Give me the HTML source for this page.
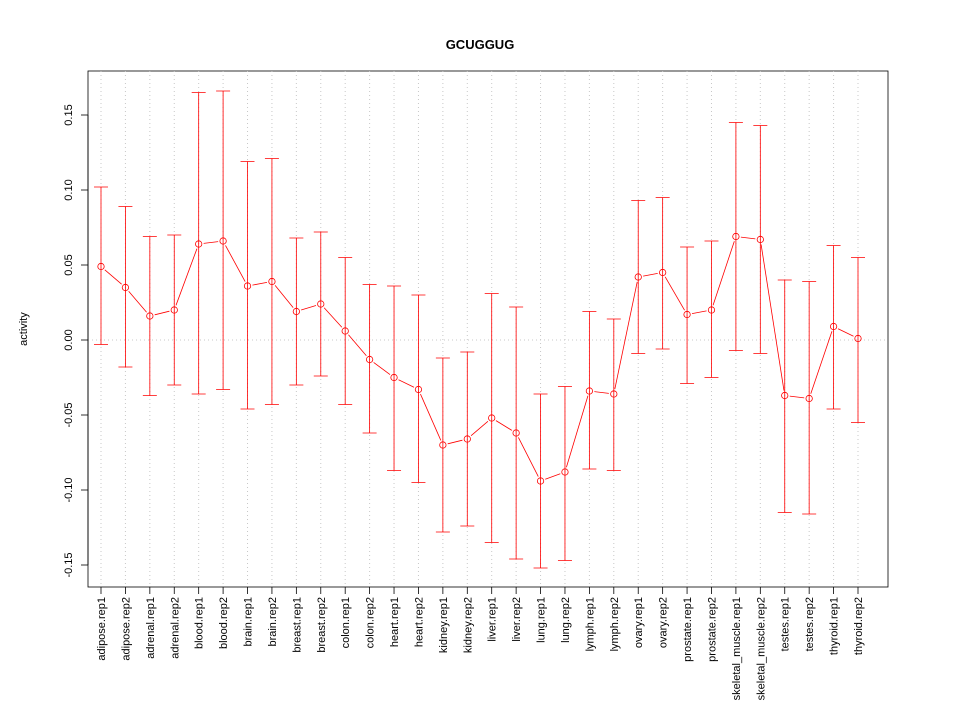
<!DOCTYPE html>
<html><head><meta charset="utf-8"><style>
body{margin:0;background:#fff}
svg text{font-family:"Liberation Sans",sans-serif}
</style></head><body>
<svg id="chart" width="960" height="720" xmlns="http://www.w3.org/2000/svg">
<rect width="960" height="720" fill="#fff"/>
<text x="480" y="49" text-anchor="middle" font-size="13" font-weight="bold">GCUGGUG</text>
<rect x="88" y="71" width="800" height="516" fill="none" stroke="#000" stroke-width="0.8"/>
<text transform="translate(27,329) rotate(-90)" text-anchor="middle" font-size="11">activity</text>
<g id="grid"></g><g id="yaxis"></g><g id="xaxis"></g><g id="series"></g>
</svg>
<script>
const categories=["adipose.rep1","adipose.rep2","adrenal.rep1","adrenal.rep2","blood.rep1","blood.rep2","brain.rep1","brain.rep2","breast.rep1","breast.rep2","colon.rep1","colon.rep2","heart.rep1","heart.rep2","kidney.rep1","kidney.rep2","liver.rep1","liver.rep2","lung.rep1","lung.rep2","lymph.rep1","lymph.rep2","ovary.rep1","ovary.rep2","prostate.rep1","prostate.rep2","skeletal_muscle.rep1","skeletal_muscle.rep2","testes.rep1","testes.rep2","thyroid.rep1","thyroid.rep2"];
const values=[0.049,0.035,0.016,0.020,0.064,0.066,0.036,0.039,0.019,0.024,0.006,-0.013,-0.025,-0.033,-0.070,-0.066,-0.052,-0.062,-0.094,-0.088,-0.034,-0.036,0.042,0.045,0.017,0.020,0.069,0.067,-0.037,-0.039,0.009,0.001];
const upper=[0.102,0.089,0.069,0.070,0.165,0.166,0.119,0.121,0.068,0.072,0.055,0.037,0.036,0.030,-0.012,-0.008,0.031,0.022,-0.036,-0.031,0.019,0.014,0.093,0.095,0.062,0.066,0.145,0.143,0.040,0.039,0.063,0.055];
const lower=[-0.003,-0.018,-0.037,-0.030,-0.036,-0.033,-0.046,-0.043,-0.030,-0.024,-0.043,-0.062,-0.087,-0.095,-0.128,-0.124,-0.135,-0.146,-0.152,-0.147,-0.086,-0.087,-0.009,-0.006,-0.029,-0.025,-0.007,-0.009,-0.115,-0.116,-0.046,-0.055];
const yTicks=[-0.15,-0.10,-0.05,0.00,0.05,0.10,0.15];
const yTickLabels=["-0.15","-0.10","-0.05","0.00","0.05","0.10","0.15"];
const NS="http://www.w3.org/2000/svg";
const xScale=i=>101+i*(858-101)/(categories.length-1);
const yScale=v=>340-v*1500;
function mk(tag,attrs,parent){const e=document.createElementNS(NS,tag);for(const k in attrs)e.setAttribute(k,attrs[k]);document.getElementById(parent).appendChild(e);return e;}
categories.forEach((c,i)=>{
  const g=mk('line',{x1:xScale(i),x2:xScale(i),y1:71,y2:587,stroke:'#c8c8c8','stroke-dasharray':'1,3'},'grid');
  
  
  const t=mk('line',{x1:xScale(i),x2:xScale(i),y1:587,y2:594,stroke:'#000','stroke-width':0.8},'xaxis');
  
  
  const l=mk('text',{transform:`translate(${xScale(i)+4},597) rotate(-90)`,'text-anchor':'end','font-size':'11'},'xaxis');
  l.textContent=c;
  
  
});
const z=mk('line',{x1:88,x2:888,y1:yScale(0),y2:yScale(0),stroke:'#c8c8c8','stroke-dasharray':'1,3'},'grid');


mk('line',{x1:88,x2:88,y1:yScale(yTicks[0]),y2:yScale(yTicks[yTicks.length-1]),stroke:'#000','stroke-width':0.8},'yaxis');
yTicks.forEach((v,i)=>{
  const t=mk('line',{x1:81,x2:88,y1:yScale(v),y2:yScale(v),stroke:'#000','stroke-width':0.8},'yaxis');
  
  
  const l=mk('text',{transform:`translate(72,${yScale(v)}) rotate(-90)`,'text-anchor':'middle','font-size':'11'},'yaxis');
  l.textContent=yTickLabels[i];
  
  
});
categories.forEach((c,i)=>{
  const x=xScale(i);
  const e=mk('path',{d:`M${x},${yScale(upper[i])}V${yScale(lower[i])}M${x-7},${yScale(upper[i])}H${x+7}M${x-7},${yScale(lower[i])}H${x+7}`,stroke:'#ff0000',fill:'none','stroke-width':0.8},'series');
  
  
});
const gap=5;
for(let i=0;i<values.length-1;i++){
  const x1=xScale(i),y1=yScale(values[i]),x2=xScale(i+1),y2=yScale(values[i+1]);
  const d=Math.hypot(x2-x1,y2-y1);
  if(d<=2*gap)continue;
  const ux=(x2-x1)/d,uy=(y2-y1)/d;
  const s=mk('line',{x1:x1+ux*gap,y1:y1+uy*gap,x2:x2-ux*gap,y2:y2-uy*gap,stroke:'#ff0000','stroke-width':0.8},'series');
  
  
}
values.forEach((v,i)=>{
  const p=mk('circle',{cx:xScale(i),cy:yScale(v),r:3.2,stroke:'#ff0000',fill:'none','stroke-width':0.8},'series');
  
  
});
</script>
</body></html>
